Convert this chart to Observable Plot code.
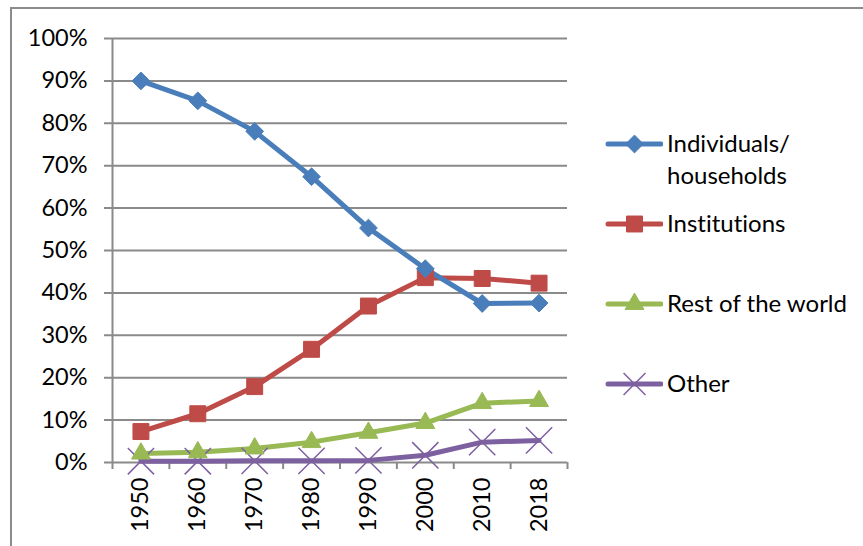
<!DOCTYPE html>
<html>
<head>
<meta charset="utf-8">
<script src="https://cdn.jsdelivr.net/npm/d3@7"></script>
<script src="https://cdn.jsdelivr.net/npm/@observablehq/plot@0.6"></script>
<style>
  html, body { margin: 0; padding: 0; background: #fff; }
  #wrap { position: relative; width: 863px; height: 546px; overflow: hidden; font-family: Lato, "Open Sans", sans-serif; font-variant-ligatures: none; }
  #frame { position: absolute; left: 10px; top: 7px; width: 900px; height: 600px; border-left: 2px solid #8c8c8c; border-top: 2px solid #8c8c8c; box-sizing: border-box; }
  #chart { position: absolute; left: 0; top: 0; }
  #chart svg text { font-variant-ligatures: none; }
  #legend { position: absolute; left: 605px; top: 0; }
  .item { position: absolute; left: 0; display: flex; align-items: flex-start; white-space: nowrap; }
  .item svg { flex: none; margin-top: 1px; }
  .item span { font-size: 24px; line-height: 32px; color: #000; margin-left: 4px; }
</style>
</head>
<body>
<div id="wrap">
  <div id="frame"></div>
  <div id="chart"></div>
  <div id="legend"></div>
</div>
<script>
const years = ["1950", "1960", "1970", "1980", "1990", "2000", "2010", "2018"];
const individuals = [0.900, 0.853, 0.781, 0.674, 0.553, 0.457, 0.375, 0.376];
const institutions = [0.073, 0.115, 0.179, 0.267, 0.369, 0.436, 0.434, 0.423];
const restOfWorld = [0.021, 0.024, 0.033, 0.048, 0.070, 0.093, 0.140, 0.145];
const other = [0.003, 0.003, 0.004, 0.004, 0.005, 0.017, 0.048, 0.052];
const seriesNames = ["Individuals/\nhouseholds", "Institutions", "Rest of the world", "Other"];
const seriesColors = ["#4a7ebb", "#be4b48", "#98b954", "#7d60a0"];
const seriesSymbols = ["diamond2", "square", "triangle", "times"];
const seriesR = [8, 9, 7, 12];
const yTicks = [0, 0.1, 0.2, 0.3, 0.4, 0.5, 0.6, 0.7, 0.8, 0.9, 1.0];

const allValues = [individuals, institutions, restOfWorld, other];
const data = [];
allValues.forEach((vals, s) => vals.forEach((v, i) => data.push({series: s, i, value: v})));

const grid = "#8a8a8a";
const idx = years.map((_, i) => i);
const bounds = years.map((_, i) => i - 0.5).concat([years.length - 0.5]);

const marks = [
  Plot.ruleY(yTicks, {stroke: grid, strokeWidth: 2, insetLeft: -8}),
  Plot.ruleX([-0.5], {y1: 0, y2: 1, stroke: grid, strokeWidth: 2}),
  Plot.axisX({ticks: bounds, tickFormat: () => "", tickSize: 7, stroke: grid, strokeWidth: 2, label: null}),
  Plot.axisX({ticks: idx, tickFormat: i => years[i], tickSize: 0, tickPadding: 15, tickRotate: -90, fontSize: 23.5, fill: "#000", label: null}),
  Plot.axisY({ticks: yTicks, tickFormat: d3.format(".0%"), tickSize: 0, tickPadding: 25, fontSize: 23.5, fill: "#000", label: null})
];
[3, 2, 1, 0].forEach(s => {
  const d = data.filter(e => e.series === s);
  marks.push(Plot.line(d, {x: "i", y: "value", stroke: seriesColors[s], strokeWidth: 5, strokeLinejoin: "round", strokeLinecap: "round"}));
});
[3, 2, 1, 0].forEach(s => {
  const d = data.filter(e => e.series === s);
  const sym = seriesSymbols[s];
  if (sym === "times") {
    marks.push(Plot.dot(d, {x: "i", y: "value", symbol: sym, r: seriesR[s], stroke: seriesColors[s], strokeWidth: 1.5, fill: "none"}));
  } else {
    marks.push(Plot.dot(d, {x: "i", y: "value", symbol: sym, r: seriesR[s], fill: seriesColors[s], stroke: seriesColors[s], strokeWidth: 1}));
  }
});

const chart = Plot.plot({
  width: 863,
  height: 546,
  marginLeft: 112,
  marginRight: 296,
  marginTop: 38,
  marginBottom: 84,
  style: {fontFamily: "Lato, 'Open Sans', sans-serif", background: "transparent", overflow: "visible"},
  x: {type: "linear", domain: [-0.5, years.length - 0.5], axis: null},
  y: {domain: [0, 1], axis: null},
  marks
});
document.getElementById("chart").appendChild(chart);

// Legend
const legend = document.getElementById("legend");
const legendTops = [127, 207, 287, 367];
const legendR = [8, 9, 7, 10];
seriesNames.forEach((name, s) => {
  const item = document.createElement("div");
  item.className = "item";
  item.style.top = legendTops[s] + "px";
  const svg = d3.create("svg").attr("width", 58).attr("height", 30);
  svg.append("line").attr("x1", 3).attr("x2", 56).attr("y1", 16).attr("y2", 16)
    .attr("stroke", seriesColors[s]).attr("stroke-width", 5).attr("stroke-linecap", "round");
  const symMap = {diamond2: d3.symbolDiamond2, square: d3.symbolSquare, triangle: d3.symbolTriangle, times: d3.symbolTimes};
  const path = d3.symbol(symMap[seriesSymbols[s]], Math.PI * legendR[s] * legendR[s])();
  const p = svg.append("path").attr("d", path).attr("transform", "translate(29.5,16)");
  if (seriesSymbols[s] === "times") p.attr("fill", "none").attr("stroke", seriesColors[s]).attr("stroke-width", 1.5);
  else p.attr("fill", seriesColors[s]).attr("stroke", seriesColors[s]);
  item.appendChild(svg.node());
  const span = document.createElement("span");
  span.innerHTML = name.replace("\n", "<br>");
  item.appendChild(span);
  legend.appendChild(item);
});
</script>
</body>
</html>
